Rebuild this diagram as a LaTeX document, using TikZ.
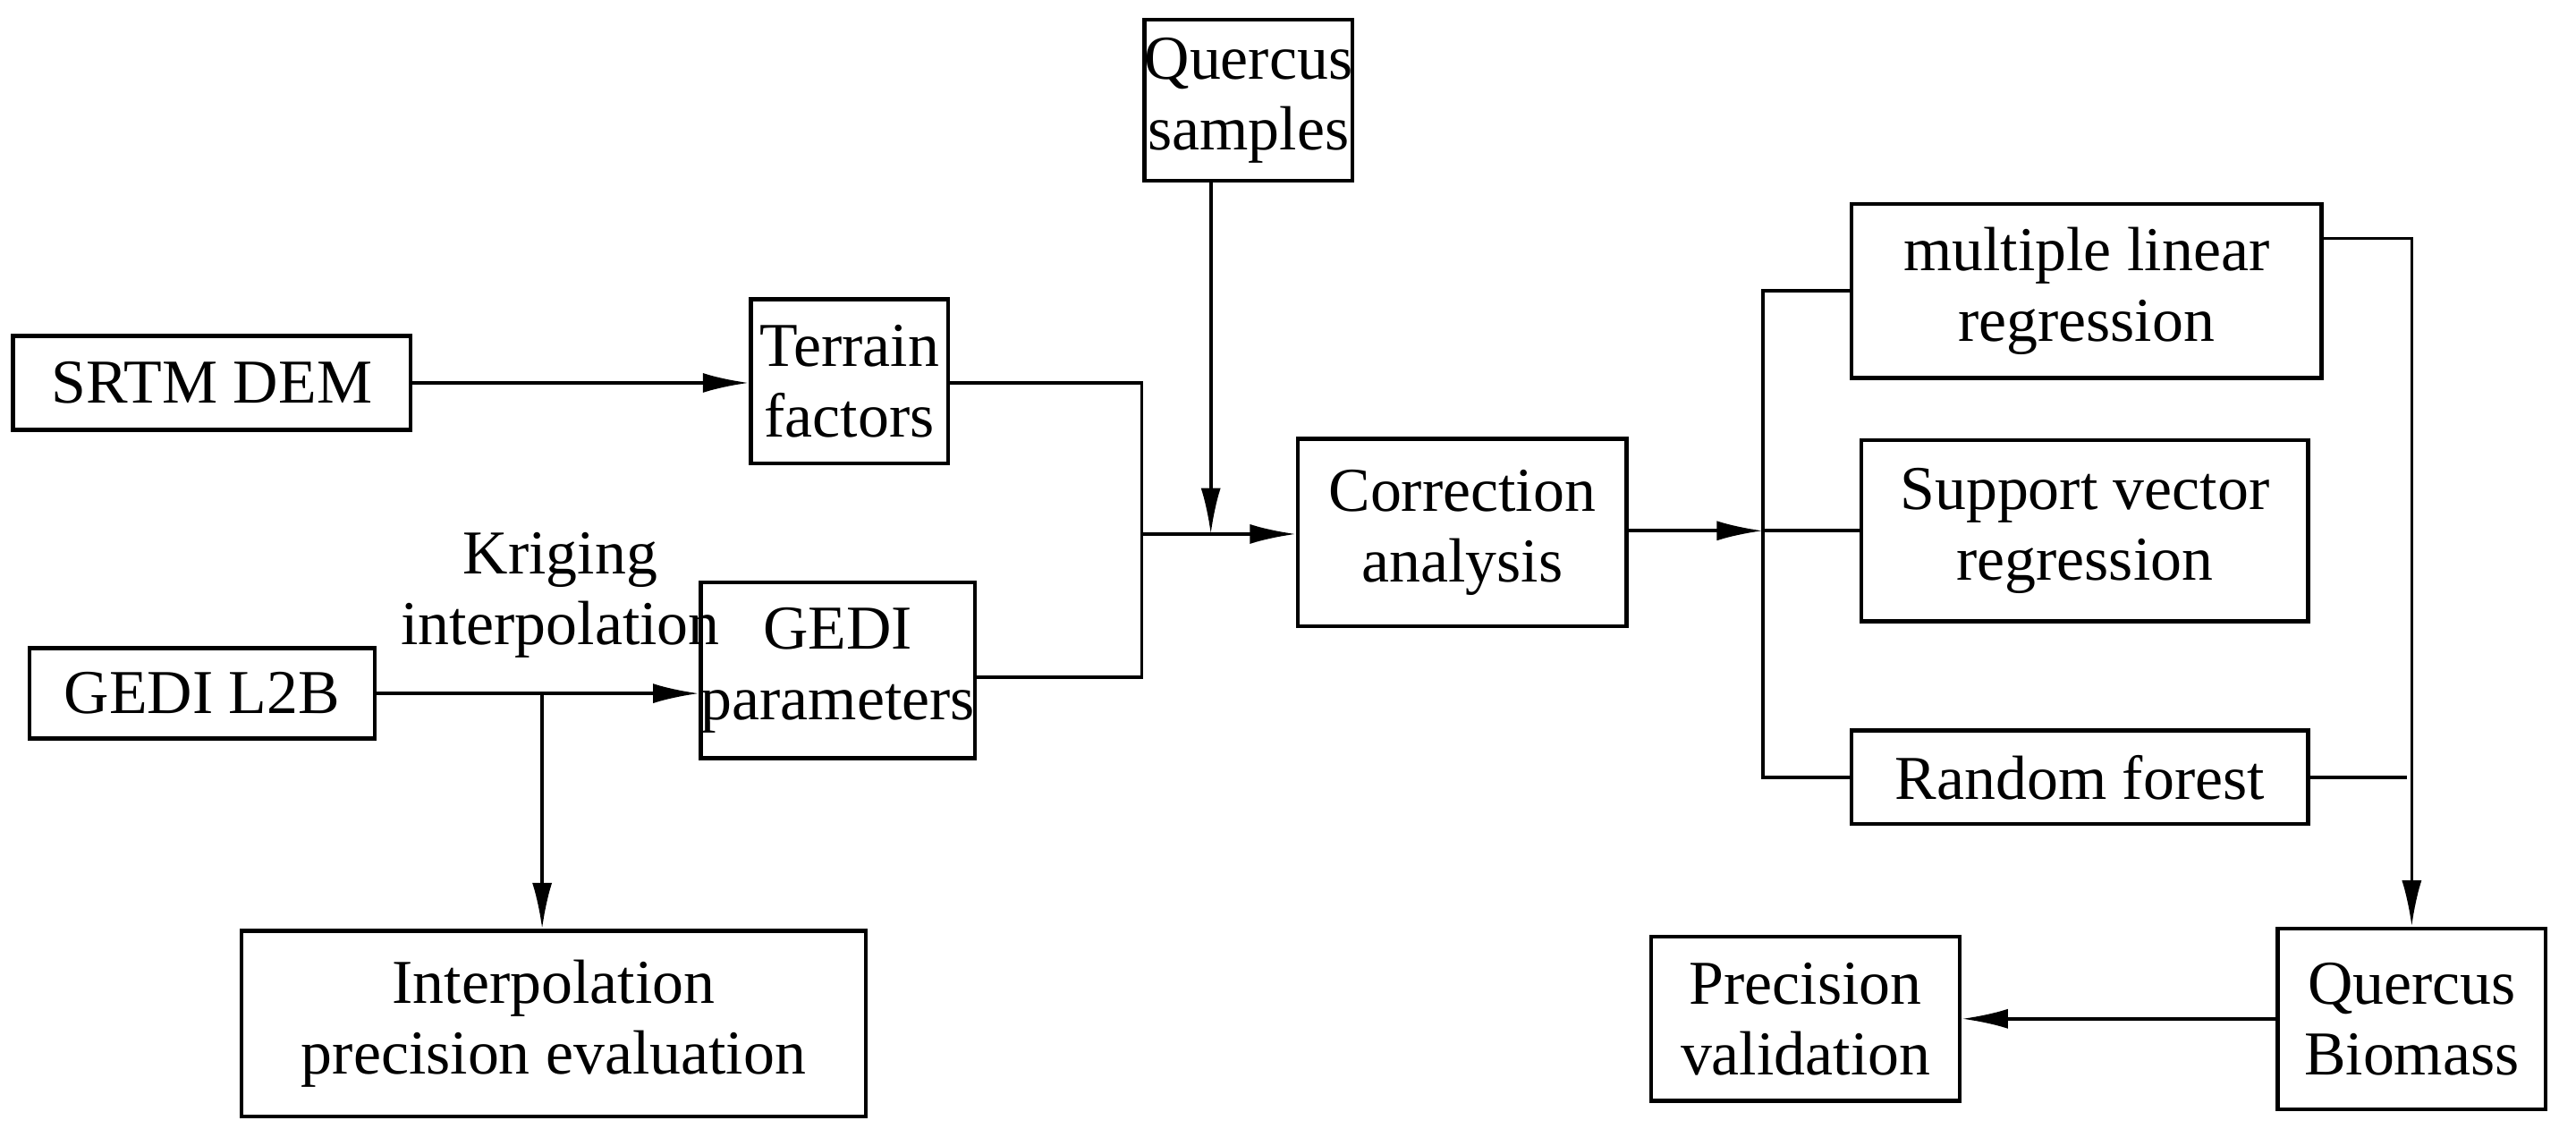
\documentclass[tikz,border=0pt]{standalone}
\usepackage{fontspec}
\setmainfont{Liberation Serif}
\usetikzlibrary{arrows.meta}
\begin{document}
\begin{tikzpicture}[x=0.5pt,y=-0.5pt,
  box/.style={draw,line width=1.2pt,align=center,inner sep=0pt,font=\fontsize{19}{21.5}\selectfont},
  ln/.style={line width=1pt},
  arr/.style={ln,-{Latex[length=14pt,width=6pt]}},
  lbl/.style={font=\fontsize{19}{21.5}\selectfont}]
\useasboundingbox (0,0) rectangle (1568,687);
\node[box,minimum width=121pt,minimum height=28.5pt] (srtm) at (129,233) {SRTM DEM};
\node[box,minimum width=60pt,minimum height=50pt] (terr) at (517,232) {Terrain\\factors};
\node[box,minimum width=60pt,minimum height=49pt] (qs) at (760,61) {Quercus\\samples};
\node[box,minimum width=100pt,minimum height=57pt] (corr) at (890,324) {Correction\\analysis};
\node[box,minimum width=105pt,minimum height=27.5pt] (gedi) at (123,422) {GEDI L2B};
\node[box,minimum width=72.5pt,minimum height=53.5pt] (gp) at (510,408) {GEDI\\parameters};
\node[lbl,align=center] (krig) at (341,362) {Kriging\\interpolation};
\node[box,minimum width=190pt,minimum height=56.5pt] (ipe) at (337,623) {Interpolation\\precision evaluation};
\node[box,minimum width=143pt,minimum height=53pt] (mlr) at (1270,177) {multiple linear\\regression};
\node[box,minimum width=136pt,minimum height=55pt] (svr) at (1269,323) {Support vector\\regression};
\node[box,minimum width=139pt,minimum height=28.5pt] (rf) at (1266,473) {Random forest};
\node[box,minimum width=81.5pt,minimum height=55pt] (qb) at (1468,620) {Quercus\\Biomass};
\node[box,minimum width=94pt,minimum height=50pt] (pv) at (1099,620) {Precision\\validation};
\coordinate (m) at (695,325);
\coordinate (k) at (330,422);
\coordinate (s) at (1073,323);
\draw[arr] (srtm) -- (terr.west|-srtm);
\draw[ln] (terr.east|-0,233) -| (695,412) -- (gp.east|-0,412);
\draw[arr] (m) -- (corr.west|-m);
\draw[arr] (737,110) -- (737,325);
\draw[arr] (gedi) -- (gp.west|-gedi);
\draw[arr] (k) -- (ipe.north-|k);
\draw[arr] (corr.east|-s) -- (s);
\draw[ln] (mlr.west) -| (s) |- (rf.west);
\draw[ln] (s) -- (svr.west);
\draw[arr] (mlr.east|-0,145) -| (qb.north);
\draw[ln] (rf.east) -- (1465,473);
\draw[arr] (qb) -- (pv);
\end{tikzpicture}
\end{document}
